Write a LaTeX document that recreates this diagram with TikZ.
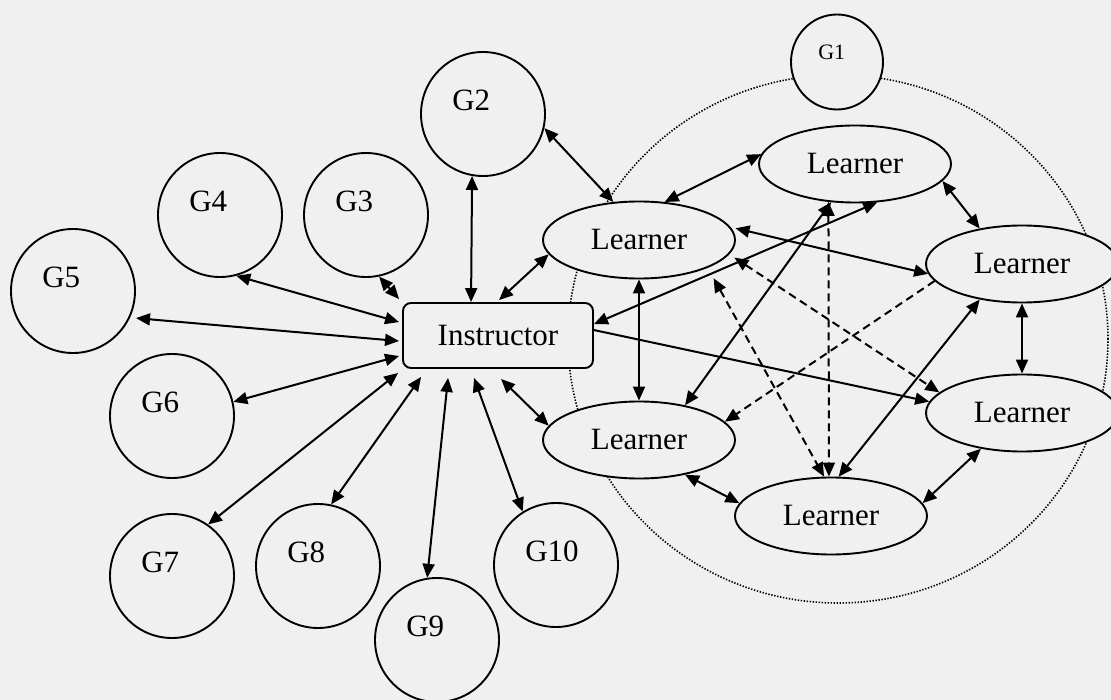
\documentclass[tikz,border=0pt]{standalone}
\usepackage{fontspec}
\setmainfont{Liberation Serif}
\usetikzlibrary{arrows.meta,shapes.geometric}
\definecolor{bg}{RGB}{240,240,240}
\begin{document}
\begin{tikzpicture}[x=1pt,y=-1pt,
  every node/.style={inner sep=0pt},
  bigfont/.style={font=\fontsize{31}{36}\selectfont},
  gcirc/.style={circle,draw,line width=1.9pt,fill=bg,minimum size=124pt},
  glab/.style={bigfont,anchor=west,inner sep=0pt,xshift=32pt,yshift=14pt},
  learner/.style={ellipse,draw,line width=1.9pt,fill=bg,minimum width=192pt,minimum height=77pt,bigfont},
  instr/.style={rectangle,rounded corners=8pt,draw,line width=1.9pt,fill=bg,minimum width=190pt,minimum height=65pt,bigfont},
  link/.style={line width=2pt,{Triangle[length=14pt,width=12pt]}-{Triangle[length=14pt,width=12pt]}},
  one/.style={line width=2pt,-{Triangle[length=14pt,width=12pt]}},
  dlink/.style={link,dash pattern=on 8pt off 5pt},
  done/.style={one,dash pattern=on 8pt off 5pt},
  group/.style={ellipse,draw=black,line width=1.6pt,dash pattern=on 1.4pt off 1.6pt,minimum width=540pt,minimum height=528pt}
]
\fill[bg] (0,0) rectangle (1111,700);
\useasboundingbox (0,0) rectangle (1111,700);

% group G1 boundary
\node[group] (grp) at (838,339) {};
\node[ellipse,draw,line width=1.9pt,fill=bg,minimum width=92pt,minimum height=95pt,
  label={[font=\fontsize{22}{26}\selectfont,anchor=west,inner sep=0pt,xshift=28pt,yshift=10pt]west:G1}] (g1) at (837,62) {};

% outer groups
\node[gcirc,label={[glab]west:G2}] (g2) at (483,114) {};
\node[gcirc,label={[glab]west:G3}] (g3) at (366,215) {};
\node[gcirc,label={[glab]west:G4}] (g4) at (220,215) {};
\node[gcirc,label={[glab]west:G5}] (g5) at (73,291) {};
\node[gcirc,label={[glab]west:G6}] (g6) at (172,416) {};
\node[gcirc,label={[glab]west:G7}] (g7) at (172,576) {};
\node[gcirc,label={[glab]west:G8}] (g8) at (318,566) {};
\node[gcirc,label={[glab]west:G9}] (g9) at (437,640) {};
\node[gcirc,label={[glab]west:G10}] (g10) at (556,565) {};

% instructor and learners
\node[instr] (ins) at (498,335.5) {Instructor\hspace{20pt}};
\node[learner] (lul) at (639,240) {Learner\hspace{6pt}};
\node[learner] (lll) at (639,440) {Learner\hspace{6pt}};
\node[learner] (lt)  at (855,164) {Learner};
\node[learner] (lru) at (1022,264) {Learner};
\node[learner] (lrl) at (1022,413) {Learner};
\node[learner] (lb)  at (831,516) {Learner};

% instructor <-> groups
\draw[link] (g2.260) -- ([xshift=69pt]ins.north west);
\draw[link] (g3.282) -- ([xshift=-3pt,yshift=3pt]ins.north west);
\draw[link] (g4.285) -- ([xshift=-3pt,yshift=-20pt]ins.north west);
\draw[link,shorten <=6pt] (g5.335) -- ([xshift=-3pt,yshift=-39pt]ins.north west);
\draw[link] (g6.13) -- ([xshift=-3pt,yshift=-54pt]ins.north west);
\draw[link] (g7.55) -- ([xshift=-4pt,yshift=-4pt]ins.south west);
\draw[link] (g8.78) -- ([xshift=19pt,yshift=-8pt]ins.south west);
\draw[link] (g9.99) -- ([xshift=46pt,yshift=-9pt]ins.south west);
\draw[link] (g10.122) -- ([xshift=72pt,yshift=-9pt]ins.south west);

% instructor <-> learners
\draw[link] ([xshift=99pt,yshift=-10pt]ins.south west) -- (lll.171);
\draw[link] ([xshift=97pt,yshift=2pt]ins.north west) -- (lul.189);
\draw[link] (lt.300) -- ([yshift=-22pt]ins.north east);
\draw[one] ([yshift=-28pt]ins.north east) -- (lrl.173);
\draw[link] (g2.347) -- (lul.124);

% learner <-> learner (solid)
\draw[link] (lul.56) -- (lt.174);
\draw[link,shorten <=5pt] (lul.8) -- (lru.186);
\draw[link] (lul.270) -- (lll.90);
\draw[link] (lt.238) -- (lll.37);
\draw[link] (lt.349) -- (lru.140);
\draw[link] (lru.270) -- (lrl.90);
\draw[link] (lru.220) -- (lb.79);
\draw[link] (lrl.221) -- (lb.8);
\draw[link] (lll.323) -- (lb.172);

% learner <-> learner (dashed)
\draw[dlink] (lt.235) -- (lb.93);
\draw[dlink,shorten <=6pt] (lul.351) -- (lrl.166);
\draw[done] (lru.191) -- (lll.12);
\draw[dlink,shorten <=12pt] (lul.338) -- (lb.100);
\end{tikzpicture}
\end{document}
